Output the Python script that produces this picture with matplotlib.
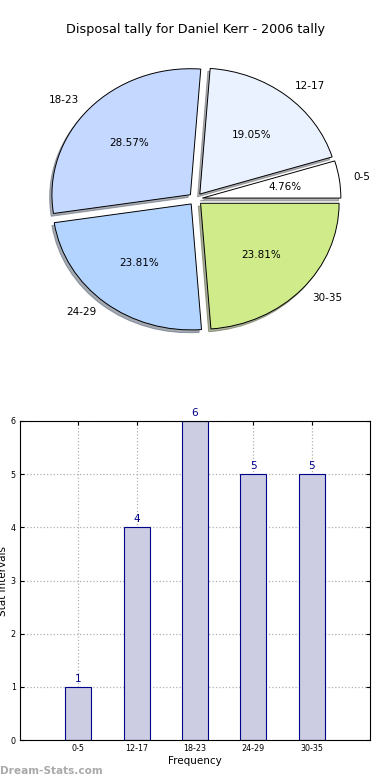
import numpy as np
import matplotlib
matplotlib.use("Agg")
import matplotlib.pyplot as plt

# data
categories = ["0-5", "12-17", "18-23", "24-29", "30-35"]
counts = [1, 4, 6, 5, 5]
pie_colors = ["#ffffff", "#eaf1ff", "#c5d8ff", "#b3d4ff", "#d0eb8a"]
y_ticks = [0, 1, 2, 3, 4, 5, 6]

fig = plt.figure(figsize=(3.9, 7.8), dpi=100)

fig.text(0.5, 1 - 30 / 780, "Disposal tally for Daniel Kerr - 2006 tally",
         ha="center", va="center", fontsize=9.2)

# pie (slightly squashed, like the old non-equal-aspect output)
rx, ry = 138.5, 126.0
L = 1.3
cx, cy = 195.5, 199
ax1 = fig.add_axes([(cx - L * rx) / 390, (780 - cy - L * ry) / 780,
                    2 * L * rx / 390, 2 * L * ry / 780])
wedges, texts, autotexts = ax1.pie(
    counts, labels=categories, colors=pie_colors, explode=[0.05] * 5,
    autopct="%.2f%%", shadow={"ox": -0.012, "oy": -0.016, "shade": 0.6},
    startangle=0, counterclock=True,
    wedgeprops=dict(edgecolor="black", linewidth=0.7),
    textprops=dict(fontsize=7.5))
ax1.set_xlim(-L, L)
ax1.set_ylim(-L, L)
ax1.set_aspect("auto")
ax1.axis("off")

# bars
ax2 = fig.add_axes([20 / 390, 1 - 740 / 780, 350 / 390, 319 / 780])
x = np.arange(len(categories))
ax2.bar(x, counts, width=0.45, color="#cccce2", edgecolor="#00008b", linewidth=0.8, zorder=2)
for xi, c in zip(x, counts):
    ax2.text(xi, c + 0.06, str(c), ha="center", va="bottom", color="#00008b", fontsize=7.5)
ax2.set_xlim(-1, 5)
ax2.set_ylim(0, 6)
ax2.set_xticks(x)
ax2.set_xticklabels(categories, fontsize=5.8)
ax2.set_yticks(y_ticks)
ax2.set_yticklabels([str(t) for t in y_ticks], fontsize=5.8)
ax2.tick_params(direction="in", length=3, pad=3, top=True, right=True)
ax2.grid(True, linestyle=":", color="#b0b0b0", linewidth=0.9, zorder=0)
ax2.set_axisbelow(True)
ax2.set_xlabel("Frequency", fontsize=7.5, labelpad=2)
ax2.set_ylabel("Stat Intervals", fontsize=7.5, labelpad=2)

fig.text(0.0, 1 - 771 / 780, "Dream-Stats.com", color="#aaaaaa", fontsize=7.6,
         fontweight="bold", ha="left", va="center")

fig.savefig("out.png", dpi=100)
